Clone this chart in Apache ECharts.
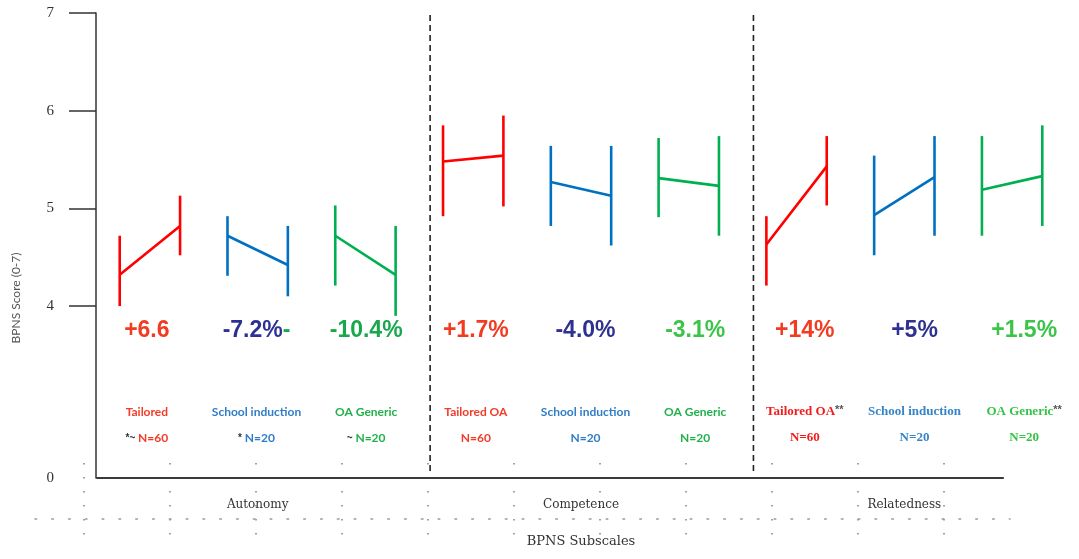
<!DOCTYPE html>
<html>
<head>
<meta charset="utf-8">
<script src="https://cdn.jsdelivr.net/npm/echarts@6/dist/echarts.min.js"></script>
<style>
html,body{margin:0;padding:0;background:#fff;}
#chart{width:1079px;height:559px;}
</style>
</head>
<body>
<div id="chart"></div>
<script>
// ---------- data ----------
const groups = ['Autonomy', 'Competence', 'Relatedness'];
const conditionNames = [
  ['Tailored', 'School induction', 'OA Generic'],
  ['Tailored OA', 'School induction', 'OA Generic'],
  ['Tailored OA', 'School induction', 'OA Generic']
];
const nameMarks = [['', '', ''], ['', '', ''], ['**', '', '**']];
const sampleSizes = [60, 20, 20];
const nMarks = [['*~', '*', '~'], ['', '', ''], ['', '', '']];
const changeLabels = [['+6.6', '-7.2%', '-10.4%'], ['+1.7%', '-4.0%', '-3.1%'], ['+14%', '+5%', '+1.5%']];
const changeTrail = [['', '-', ''], ['', '', ''], ['', '', '']];

const preMean  = [[4.32, 4.72, 4.72], [5.48, 5.27, 5.31], [4.63, 4.93, 5.19]];
const postMean = [[4.82, 4.42, 4.32], [5.54, 5.13, 5.23], [5.43, 5.32, 5.33]];
const preLow   = [[4.00, 4.31, 4.21], [4.92, 4.82, 4.91], [4.21, 4.52, 4.72]];
const preHigh  = [[4.72, 4.92, 5.03], [5.85, 5.64, 5.72], [4.92, 5.54, 5.74]];
const postLow  = [[4.52, 4.10, 3.90], [5.02, 4.62, 4.72], [5.03, 4.72, 4.82]];
const postHigh = [[5.13, 4.82, 4.82], [5.95, 5.64, 5.74], [5.74, 5.74, 5.85]];

const yTickValues = [4, 5, 6, 7];
const yAxisBottom = 2.24;   // axis break: bottom of axis is labelled 0
const yAxisTop = 7;

// ---------- derived ----------
const categories = [];
groups.forEach(g => conditionNames[0].forEach(c => categories.push(g + ' / ' + c)));

const markColors = ['#ff0000', '#0070c0', '#00b050'];
const pctColors = [
  ['#f23c22', '#2e3192', '#18a84c'],
  ['#f23c22', '#2e3192', '#3cc34a'],
  ['#f23c22', '#2e3192', '#3cc34a']
];
const nameColorsSans = ['#f43b2a', '#2f7dc6', '#21b14c'];
const nameColorsSerif = ['#f21c1c', '#3684c8', '#35c447'];

const barData = [];
for (let g = 0; g < groups.length; g++) {
  for (let c = 0; c < 3; c++) {
    barData.push([g * 3 + c, preMean[g][c], postMean[g][c], preLow[g][c], preHigh[g][c], postLow[g][c], postHigh[g][c], c]);
  }
}
// last category index of every group except the final one -> group dividers
const dividerData = [];
for (let g = 0; g < groups.length - 1; g++) dividerData.push([g * 3 + 2]);

// rich styles
const pctRich = {};
const nameRich = {};
const nRich = {};
for (let g = 0; g < 3; g++) {
  for (let c = 0; c < 3; c++) {
    pctRich['p' + c + g] = {
      color: pctColors[g][c], fontFamily: 'Liberation Sans', fontWeight: 'bold',
      fontSize: 23, lineHeight: 26
    };
    const serif = g === 2;
    nameRich['n' + c + g] = {
      color: serif ? nameColorsSerif[c] : nameColorsSans[c],
      fontFamily: serif ? 'Liberation Serif' : 'Lato', fontWeight: 'bold',
      fontSize: serif ? 13 : 12, lineHeight: 16
    };
    nRich['n' + c + g] = nameRich['n' + c + g];
  }
}
nameRich.mk = { color: '#555', fontFamily: 'Liberation Sans', fontWeight: 'bold', fontSize: 11, lineHeight: 16, verticalAlign: 'top' };
nRich.mk = { color: '#333', fontFamily: 'Liberation Sans', fontWeight: 'bold', fontSize: 10, lineHeight: 16 };

function pctFormatter(v, i) {
  const g = Math.floor(i / 3), c = i % 3;
  let s = '{p' + c + g + '|' + changeLabels[g][c] + '}';
  if (changeTrail[g][c]) s += '{p2' + g + '|' + changeTrail[g][c] + '}';
  return s;
}
function nameFormatter(v, i) {
  const g = Math.floor(i / 3), c = i % 3;
  let s = '{n' + c + g + '|' + conditionNames[g][c] + '}';
  if (nameMarks[g][c]) s += '{mk|' + nameMarks[g][c] + '}';
  return s;
}
function nFormatter(v, i) {
  const g = Math.floor(i / 3), c = i % 3;
  let s = '';
  if (nMarks[g][c]) s += '{mk|' + nMarks[g][c] + ' }';
  s += '{n' + c + g + '|N=' + sampleSizes[c] + '}';
  return s;
}

const hiddenAxis = (gi, extra) => Object.assign({
  gridIndex: gi, type: 'value', min: 0, max: 1,
  axisLine: { show: false }, axisTick: { show: false }, axisLabel: { show: false }, splitLine: { show: false }
}, extra || {});

const chart = echarts.init(document.getElementById('chart'), null, { renderer: 'canvas' });
chart.setOption({
  backgroundColor: '#ffffff',
  animation: false,
  grid: [
    { left: 96, right: 13, top: 13, bottom: 81 },          // 0 main plot
    { left: 92, width: 1009, top: 280, height: 20 },        // 1 text rows
    { left: 97, width: 906, top: 118, height: 360 },        // 2 x axis line + y name
    { left: 84, width: 860, top: 463, height: 84 },         // 3 vertical dotted guides
    { left: 35, width: 975, top: 500, height: 19 }          // 4 horizontal dotted guide
  ],
  xAxis: [
    {
      gridIndex: 0, type: 'category', data: categories, boundaryGap: true,
      axisLine: { show: false }, axisTick: { show: false },
      axisLabel: {
        interval: (i) => i % 3 === 1,
        formatter: (v, i) => groups[Math.floor(i / 3)],
        margin: 21, color: '#333', fontFamily: 'DejaVu Serif', fontSize: 12
      },
      splitLine: { show: false },
      name: 'BPNS Subscales', nameLocation: 'middle', nameGap: 57,
      nameTextStyle: { color: '#333', fontFamily: 'DejaVu Serif', fontSize: 13 }
    },
    {
      gridIndex: 1, type: 'category', data: categories, position: 'bottom', offset: 0,
      axisLine: { show: false }, axisTick: { show: false }, splitLine: { show: false },
      axisLabel: { interval: 0, margin: 18, formatter: pctFormatter, rich: pctRich }
    },
    {
      gridIndex: 1, type: 'category', data: categories, position: 'bottom', offset: 96,
      axisLine: { show: false }, axisTick: { show: false }, splitLine: { show: false },
      axisLabel: { interval: 0, margin: 8, formatter: nameFormatter, rich: nameRich }
    },
    {
      gridIndex: 1, type: 'category', data: categories, position: 'bottom', offset: 122,
      axisLine: { show: false }, axisTick: { show: false }, splitLine: { show: false },
      axisLabel: { interval: 0, margin: 8, formatter: nFormatter, rich: nRich }
    },
    hiddenAxis(2, { axisLine: { show: true, lineStyle: { color: '#3a3a3a', width: 2.2 } } }),
    hiddenAxis(3, {
      min: 0, max: 10, interval: 1,
      splitLine: { show: true, lineStyle: { color: '#8a8a8a', width: 1.6, type: [1.6, 12.4] } }
    }),
    hiddenAxis(4, { axisLine: { show: true, lineStyle: { color: '#9a9a9a', width: 1.6, type: [1.6, 15.2] } } })
  ],
  yAxis: [
    {
      gridIndex: 0, type: 'value', min: yAxisBottom, max: yAxisTop,
      axisLine: { show: true, lineStyle: { color: '#333', width: 1.5 } },
      axisTick: { show: true, inside: false, length: 27, customValues: yTickValues, lineStyle: { color: '#333', width: 1.5 } },
      axisLabel: {
        customValues: [yAxisBottom].concat(yTickValues),
        formatter: (v) => (v < yTickValues[0] ? '0' : String(v)),
        margin: 42, color: '#333', fontFamily: 'Liberation Serif', fontSize: 15
      },
      splitLine: { show: false }
    },
    hiddenAxis(1),
    hiddenAxis(2, {
      name: 'BPNS Score (0-7)', nameLocation: 'middle', nameGap: 75,
      nameTextStyle: { color: '#555', fontFamily: 'Lato', fontSize: 12 }
    }),
    hiddenAxis(3),
    hiddenAxis(4)
  ],
  series: [
    {
      type: 'custom',
      xAxisIndex: 0, yAxisIndex: 0,
      clip: false,
      data: dividerData,
      encode: { x: 0 },
      renderItem: function (params, api) {
        const idx = api.value(0);
        const band = api.size([1, 0])[0];
        const top = api.coord([idx, yAxisTop]);
        const bottom = api.coord([idx, yAxisBottom]);
        const x = top[0] + band * 0.6;
        return {
          type: 'line',
          shape: { x1: x, y1: top[1] + 2, x2: x, y2: bottom[1] - 3 },
          style: { stroke: '#222', lineWidth: 1.6, lineDash: [6, 4] }
        };
      }
    },
    {
      type: 'custom',
      xAxisIndex: 0, yAxisIndex: 0,
      clip: false,
      data: barData,
      encode: { x: 0, y: 1 },
      renderItem: function (params, api) {
        const idx = api.value(0);
        const band = api.size([1, 0])[0];
        const off = band * 0.28;
        const cx = api.coord([idx, api.value(1)])[0];
        const x1 = cx - off, x2 = cx + off;
        const yPre = api.coord([idx, api.value(1)])[1];
        const yPost = api.coord([idx, api.value(2)])[1];
        const yPreLo = api.coord([idx, api.value(3)])[1];
        const yPreHi = api.coord([idx, api.value(4)])[1];
        const yPostLo = api.coord([idx, api.value(5)])[1];
        const yPostHi = api.coord([idx, api.value(6)])[1];
        const color = markColors[api.value(7)];
        const st = { stroke: color, lineWidth: 2.6, lineCap: 'butt' };
        return {
          type: 'group',
          children: [
            { type: 'line', shape: { x1: x1, y1: yPreLo, x2: x1, y2: yPreHi }, style: st },
            { type: 'line', shape: { x1: x2, y1: yPostLo, x2: x2, y2: yPostHi }, style: st },
            { type: 'line', shape: { x1: x1, y1: yPre, x2: x2, y2: yPost }, style: st }
          ]
        };
      }
    }
  ]
});
</script>
</body>
</html>
